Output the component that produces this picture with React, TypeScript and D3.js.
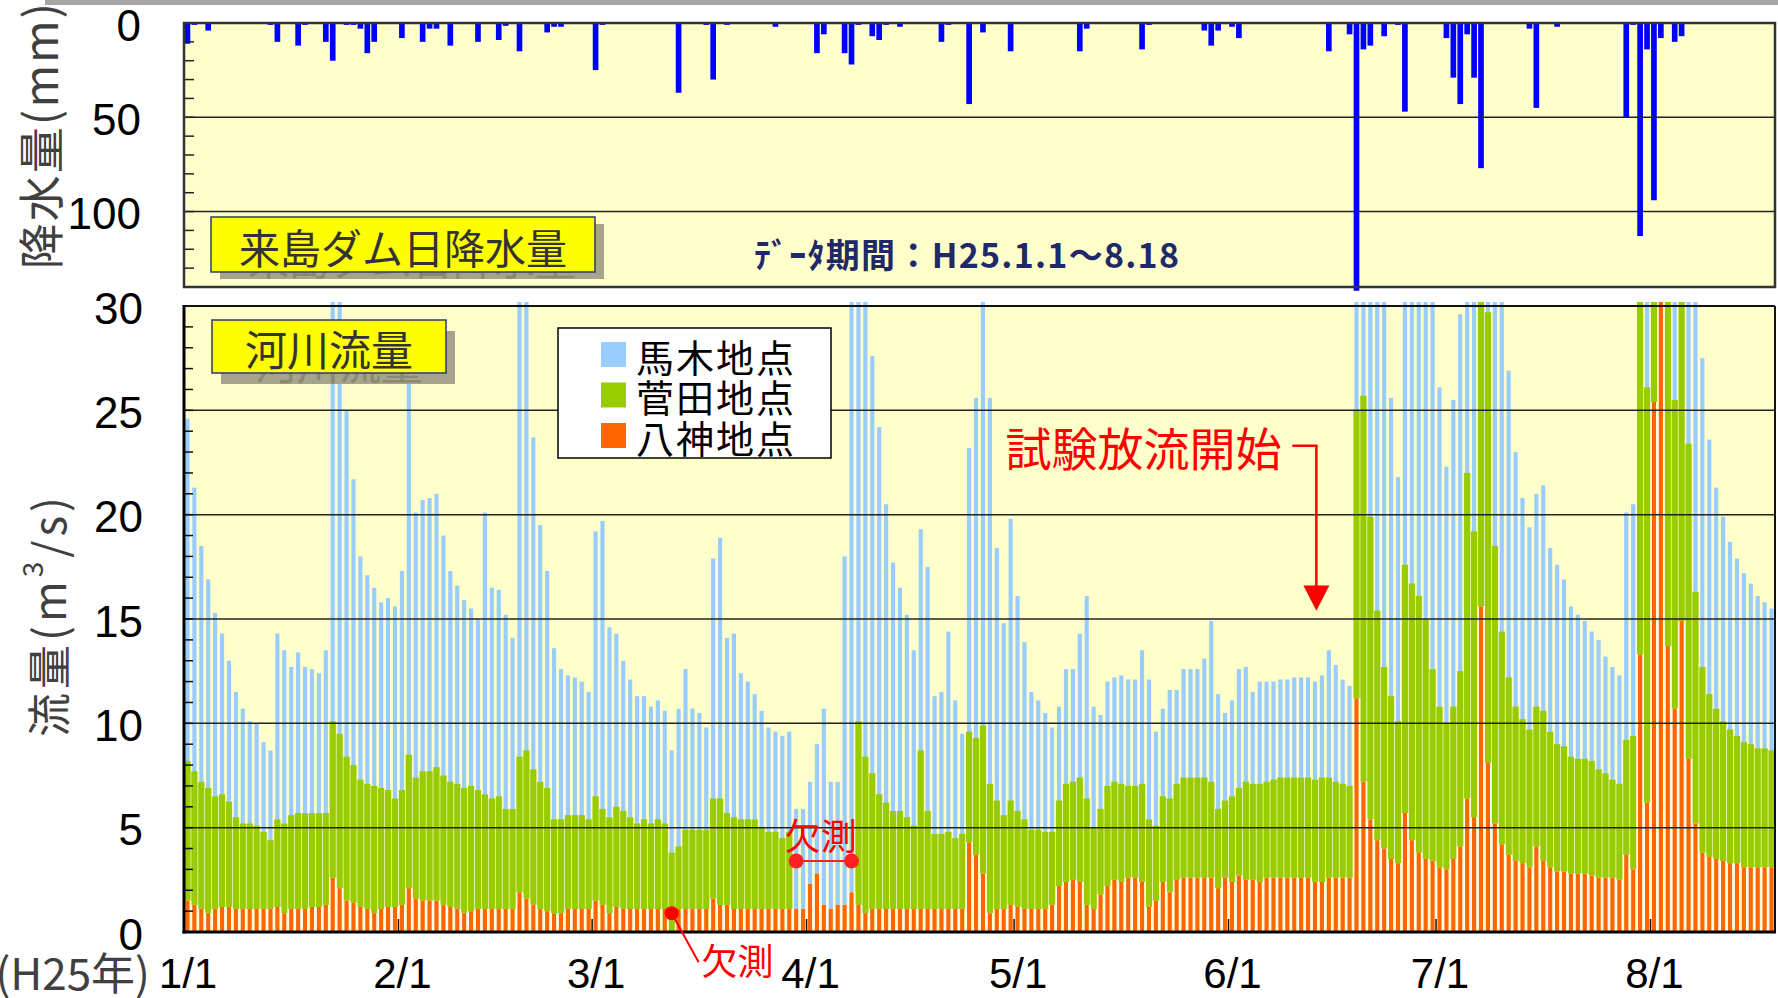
import React from "react";
import * as d3 from "d3";

// daily values, 2013-01-01 (H25.1.1) .. 2013-08-18
const N = 230;

// 来島ダム daily rainfall (mm)
const rain = [
  11, 1, 0, 4, 0, 0, 0, 0, 0, 0, 0, 0, 1, 10, 0, 0, 12, 1, 0, 0, 10, 20, 0, 1, 1, 3, 16, 10, 0, 0, 0,
  8, 0, 0, 10, 3, 3, 0, 12, 0, 0, 0, 10, 0, 0, 9, 1.5, 0, 15, 0, 0, 0, 5, 2, 2, 0, 0, 0, 0,
  25, 1, 0, 0, 0, 0, 0, 0, 0, 0, 0, 0, 37, 0, 0, 0, 1, 30, 0, 1, 0, 0, 0, 0, 0, 0, 2, 0, 0, 0, 0,
  0, 16, 6, 0, 0, 16, 22, 1, 0, 7, 9, 1, 0, 2, 0, 0, 0, 0, 0, 10, 1, 0, 0, 43, 0, 5, 0, 0, 0, 15,
  0, 0, 0, 0, 0, 0, 0, 0, 0, 15, 3, 0, 0, 0, 0, 0, 0, 0, 14, 1, 0, 0, 0, 0, 0, 0, 0, 4, 12, 4, 0,
  2, 8, 0, 0, 0, 0, 0, 0, 0, 0, 0, 0, 0, 0, 15, 0, 0, 6, 142, 14, 12, 0, 7, 0, 1, 47, 0, 0, 0, 0,
  0, 8, 29, 43, 6, 29, 77, 0, 0, 0, 0, 0, 0, 3, 45, 0, 0, 2, 0, 0, 0, 0, 0, 0, 0, 0, 0, 50, 1, 113, 14,
  94, 8, 0, 10, 7, 0, 0, 0, 0, 0, 0, 0, 0, 0, 0, 0, 0, 0,
];

// 馬木地点 flow (m3/s)
const bamoku = [
  24.6, 21.3, 18.5, 16.9, 15.3, 14.3, 13.0, 11.5, 10.7, 10.1, 10.0, 9.1, 8.7, 14.3, 13.5, 12.7, 13.4, 12.7, 12.6, 12.4, 13.5, 35, 32, 25.0, 21.7, 18.0, 17.1, 16.5, 15.8, 16.0, 15.6,
  17.3, 26.5, 20.1, 20.7, 20.8, 21.0, 19.0, 17.3, 16.6, 15.9, 15.5, 15.0, 20.1, 16.5, 16.4, 15.2, 14.1, 35, 33, 23.7, 19.5, 17.3, 13.6, 12.6, 12.3, 12.2, 12.0, 11.5,
  19.2, 19.7, 14.6, 14.3, 13.0, 12.1, 11.3, 11.3, 10.8, 11.1, 10.6, 8.7, 10.7, 12.6, 10.7, 10.5, 9.8, 17.9, 18.9, 14.1, 14.3, 12.4, 12.0, 11.4, 10.6, 9.8, 9.6, 9.4, 9.6, 5.9, 5.9,
  7.2, 9.0, 10.7, 7.2, 7.2, 18.0, 33, 33, 31, 27.6, 24.2, 20.5, 17.7, 16.5, 15.2, 13.5, 19.3, 17.5, 11.3, 11.5, 14.4, 11.1, 9.5, 23.2, 25.6, 31, 25.6, 18.4, 14.8, 19.8,
  16.1, 13.9, 11.5, 11.1, 10.5, 9.8, 10.8, 12.6, 12.6, 14.3, 16.1, 10.8, 10.4, 12.0, 12.2, 12.3, 12.1, 12.1, 13.5, 12.1, 9.6, 10.7, 11.6, 11.6, 12.6, 12.6, 12.6, 13.1, 14.9, 11.4, 10.5,
  11.1, 12.6, 12.7, 11.5, 12.0, 12.0, 12.0, 12.1, 12.1, 12.2, 12.2, 12.2, 12.0, 12.3, 13.5, 12.8, 12.1, 11.8, 40, 40, 35, 33, 31, 25.6, 21.8, 40, 38, 35, 33, 31,
  26.1, 22.3, 25.5, 29.6, 40, 40, 45, 40, 35, 31, 26.9, 23.0, 20.8, 19.4, 21.0, 21.4, 18.4, 17.6, 16.9, 15.6, 15.2, 14.9, 14.4, 14.0, 13.2, 12.7, 12.3, 20.1, 20.5, 40, 40,
  45, 45, 40, 38, 35, 33, 31, 27.5, 23.6, 21.3, 19.9, 18.7, 17.9, 17.2, 16.7, 16.1, 15.8, 15.5,
];

// 菅田地点 flow (m3/s), null = 欠測
const sugata = [
  8.2, 7.7, 7.2, 6.9, 6.5, 6.6, 6.25, 5.5, 5.2, 5.2, 5.1, 4.8, 4.4, 5.4, 5.2, 5.6, 5.7, 5.7, 5.7, 5.7, 5.7, 10.1, 9.5, 8.4, 8.0, 7.3, 7.1, 7.0, 6.9, 6.8, 6.4,
  6.8, 8.5, 7.4, 7.7, 7.7, 7.9, 7.5, 7.2, 7.1, 6.9, 7.0, 6.8, 6.6, 6.4, 6.5, 5.9, 5.9, 8.4, 8.7, 7.8, 7.2, 6.9, 5.4, 5.4, 5.6, 5.6, 5.6, 5.4,
  6.5, 5.9, 5.5, 6.0, 5.8, 5.5, 5.2, 5.4, 5.2, 5.4, 5.2, 3.8, 4.1, 4.9, 4.9, 4.9, 4.9, 6.4, 6.4, 5.7, 5.5, 5.4, 5.4, 5.4, 5.0, 4.8, 4.8, 4.5, 4.8, null, null,
  null, null, null, null, null, null, null, 10.1, 8.4, 7.6, 6.6, 6.2, 5.8, 5.8, 5.5, 5.1, 8.7, 5.8, 4.7, 4.7, 4.8, 4.5, 4.7, 9.6, 9.3, 9.9, 7.1, 6.3, 5.6, 6.3,
  5.8, 5.4, 4.9, 4.9, 4.8, 4.8, 6.3, 7.1, 7.2, 7.4, 6.4, 5.0, 5.9, 7.0, 7.2, 7.1, 7.0, 7.0, 7.1, 5.4, 5.1, 6.5, 6.4, 7.1, 7.4, 7.4, 7.4, 7.4, 7.2, 5.9, 6.3,
  6.5, 6.9, 7.2, 7.1, 7.1, 7.2, 7.3, 7.4, 7.4, 7.4, 7.4, 7.4, 7.3, 7.4, 7.4, 7.2, 7.1, 7.0, 25.0, 25.7, 19.9, 15.4, 12.7, 11.3, 10.1, 17.6, 16.7, 16.1, 15.0, 12.6,
  10.8, 10.0, 10.8, 12.5, 22.0, 19.2, 31, 29.7, 18.5, 14.4, 12.2, 10.8, 10.2, 9.7, 10.8, 10.6, 9.6, 9.0, 8.9, 8.4, 8.3, 8.3, 8.2, 7.8, 7.6, 7.3, 7.1, 9.2, 9.4, 35, 26.1,
  33, 33, 31, 25.5, 30.5, 23.4, 16.3, 12.7, 11.4, 10.7, 10.1, 9.7, 9.4, 9.1, 9.0, 8.8, 8.8, 8.7,
];

// 八神地点 flow (m3/s), null = 欠測
const yagami = [
  1.5, 1.3, 1.1, 0.9, 1.1, 1.2, 1.2, 1.1, 1.1, 1.1, 1.1, 1.1, 1.1, 1.2, 0.9, 1.1, 1.1, 1.1, 1.2, 1.2, 1.3, 2.6, 2.1, 1.5, 1.4, 1.2, 1.1, 0.9, 1.1, 1.2, 1.2,
  1.3, 2.1, 1.6, 1.5, 1.5, 1.5, 1.3, 1.2, 1.1, 0.9, 1.0, 1.1, 1.1, 1.1, 1.1, 1.1, 1.1, 1.9, 1.6, 1.3, 1.1, 1.0, 0.9, 0.9, 1.1, 1.1, 1.1, 1.1,
  1.5, 1.3, 0.9, 1.2, 1.1, 1.1, 1.1, 1.1, 1.1, 1.1, 1.1, null, 1.1, 1.1, 1.1, 1.1, 1.1, 1.6, 1.3, 1.3, 1.1, 1.1, 1.1, 1.1, 1.1, 1.1, 1.1, 1.1, 1.1, 1.1, 1.1,
  2.3, 2.8, 1.3, 1.1, 1.3, 1.3, 1.9, 1.3, 0.9, 1.1, 1.1, 1.1, 1.1, 1.1, 1.1, 1.1, 1.1, 1.1, 1.1, 1.1, 1.1, 1.1, 1.1, 4.3, 3.7, 2.8, 0.9, 1.1, 1.1, 1.3,
  1.2, 1.1, 1.1, 1.1, 1.1, 1.3, 2.2, 2.4, 2.5, 2.4, 1.3, 1.1, 1.8, 2.2, 2.5, 2.4, 2.6, 2.6, 2.4, 1.2, 1.5, 2.4, 1.9, 2.5, 2.6, 2.6, 2.6, 2.6, 2.6, 2.1, 2.6,
  2.4, 2.7, 2.5, 2.5, 2.4, 2.6, 2.6, 2.6, 2.6, 2.6, 2.6, 2.6, 2.4, 2.4, 2.6, 2.6, 2.6, 2.6, 11.2, 7.2, 5.4, 4.4, 4.0, 3.5, 3.3, 5.7, 4.4, 3.8, 3.5, 3.4,
  3.1, 3.0, 3.5, 4.1, 6.4, 5.5, 15.6, 8.1, 5.2, 4.2, 3.7, 3.4, 3.3, 3.1, 4.1, 3.4, 3.1, 2.9, 2.9, 2.8, 2.8, 2.8, 2.7, 2.6, 2.6, 2.6, 2.5, 3.7, 3.0, 13.3, 6.2,
  25.4, 31, 13.7, 10.7, 14.9, 8.3, 5.2, 3.8, 3.6, 3.5, 3.4, 3.3, 3.3, 3.1, 3.1, 3.1, 3.1, 3.1,
];

const monthStarts = [0, 31, 59, 90, 120, 151, 181, 212];
const monthLabels = ["1/1", "2/1", "3/1", "4/1", "5/1", "6/1", "7/1", "8/1"];
const rainTicks = [0, 50, 100];
const flowTicks = [0, 5, 10, 15, 20, 25, 30];
const seriesNames = ["馬木地点", "菅田地点", "八神地点"];

// annotations (day index / value)
const releaseDay = 163.7;
const missingSugata = [88, 96];
const missingYagami = 70;

const JP = '"Noto Sans CJK JP", "Noto Sans", sans-serif';
const LAT = '"Liberation Sans", Arial, sans-serif';
const C_BLUE = "#99CCFF";
const C_GREEN = "#99CC00";
const C_ORANGE = "#FF6600";
const BG = "#FFFFCC";

export default function App() {
  const left = 184;
  const right = 1775;
  const xl = d3.scaleLinear().domain([0, N]).range([left, right]);
  const bw = xl(1) - xl(0);
  const rainY = d3.scaleLinear().domain([0, 140]).range([23, 287]);
  const flowY = d3.scaleLinear().domain([0, 30]).range([932, 306]);
  const days = d3.range(N);
  const cx = (d: number) => xl(d) + bw / 2;

  const flowBar = (v: number | null, i: number, off: number, w: number, fill: string) =>
    v == null ? null : (
      <rect key={i} x={xl(i) + bw * off} width={bw * w} y={flowY(v)} height={flowY(0) - flowY(v)} fill={fill} />
    );

  const arrowX = xl(releaseDay);

  return (
    <svg width={1778} height={998} style={{ position: "fixed", left: 0, top: 0, background: "#fff" }}>
      <defs>
        <clipPath id="clipFlow">
          <rect x={left} y={flowY(30) - 4} width={right - left} height={flowY(0) - flowY(30) + 4} />
        </clipPath>
        <clipPath id="clipRain">
          <rect x={left} y={rainY(0)} width={right - left} height={rainY(140) - rainY(0) + 4} />
        </clipPath>
        <clipPath id="clipShadowTop">
          <rect x={595} y={224} width={9} height={55} />
          <rect x={220} y={272} width={384} height={7} />
        </clipPath>
        <clipPath id="clipShadowFlow">
          <rect x={446} y={331} width={9} height={53} />
          <rect x={221} y={373} width={234} height={11} />
        </clipPath>
      </defs>

      <rect x={45} y={0} width={1733} height={5} fill="#a6a6a6" />

      {/* ---- rainfall panel ---- */}
      <rect x={left} y={rainY(0)} width={right - left} height={rainY(140) - rainY(0)} fill={BG} />
      <g clipPath="url(#clipRain)">
        {days.map((i) =>
          rain[i] > 0 ? (
            <rect key={i} x={xl(i) + bw * 0.09} width={bw * 0.82} y={rainY(0)} height={rainY(rain[i]) - rainY(0)} fill="#0000FF" />
          ) : null
        )}
      </g>
      {rainTicks.slice(1).map((t) => (
        <line key={t} x1={left} x2={right} y1={rainY(t)} y2={rainY(t)} stroke="#222" strokeWidth={1.5} />
      ))}
      {d3.range(10, 140, 10).map((t) => (
        <line key={t} x1={left} x2={left + 10} y1={rainY(t)} y2={rainY(t)} stroke="#222" strokeWidth={1.5} />
      ))}
      <rect x={left} y={rainY(0)} width={right - left} height={rainY(140) - rainY(0)} fill="none" stroke="#333" strokeWidth={2.5} />
      {rainTicks.map((t) => (
        <text key={t} x={141} y={rainY(t) + 2} textAnchor="end" dominantBaseline="central" fontFamily={LAT} fontSize={44} fill="#000">
          {t}
        </text>
      ))}

      {/* rainfall title box */}
      <rect x={220} y={224} width={384} height={55} fill="#A6A48C" />
      <g clipPath="url(#clipShadowTop)">
        <text x={412} y={257} textAnchor="middle" dominantBaseline="central" fontFamily={JP} fontSize={41} fill="#8a8874">
          来島ダム日降水量
        </text>
      </g>
      <rect x={211} y={217} width={384} height={55} fill="#FFFF00" stroke="#2E3A6B" strokeWidth={1.5} />
      <text x={403} y={246} textAnchor="middle" dominantBaseline="central" fontFamily={JP} fontSize={41} fill="#333">
        来島ダム日降水量
      </text>
      <text x={754} y={253} dominantBaseline="central" fontFamily={JP} fontSize={34} fontWeight="bold" fill="#1f2868" textLength={425} lengthAdjust="spacing">
        ﾃﾞｰﾀ期間：H25.1.1～8.18
      </text>

      <text transform={`translate(38,135) rotate(-90)`} textAnchor="middle" dominantBaseline="central" fontFamily={JP} fontSize={46} fill="#404040" letterSpacing={2}>
        降水量(mm)
      </text>

      {/* ---- flow panel ---- */}
      <rect x={left} y={flowY(30)} width={right - left} height={flowY(0) - flowY(30)} fill={BG} />
      <g clipPath="url(#clipFlow)">
        {days.map((i) => flowBar(bamoku[i], i, 0.2, 0.6, C_BLUE))}
        {days.map((i) => flowBar(sugata[i], i, 0.05, 0.9, C_GREEN))}
        {days.map((i) =>
          yagami[i] == null ? null : (
            <rect key={i} x={xl(i)} width={bw + 0.4} y={flowY(yagami[i] as number)} height={flowY(0) - flowY(yagami[i] as number)} fill="#FFFFE6" />
          )
        )}
        {days.map((i) => flowBar(yagami[i], i, 0.2, 0.6, C_ORANGE))}
      </g>
      {flowTicks.slice(1, -1).map((t) => (
        <line key={t} x1={left} x2={right} y1={flowY(t)} y2={flowY(t)} stroke="#222" strokeWidth={1.5} />
      ))}
      {d3.range(1, 30).map((t) => (
        <line key={t} x1={left} x2={left + 9} y1={flowY(t)} y2={flowY(t)} stroke="#111" strokeWidth={1.5} />
      ))}
      {monthStarts.slice(1).map((d) => (
        <line key={d} x1={xl(d)} x2={xl(d)} y1={flowY(0)} y2={flowY(0) - 13} stroke="#111" strokeWidth={1.5} />
      ))}
      <line x1={left} x2={right} y1={flowY(30)} y2={flowY(30)} stroke="#111" strokeWidth={2} />
      <line x1={right} x2={right} y1={flowY(30)} y2={flowY(0)} stroke="#111" strokeWidth={2} />
      <line x1={left} x2={left} y1={flowY(30) - 1} y2={flowY(0) + 1.5} stroke="#000" strokeWidth={3} />
      <line x1={left - 1.5} x2={right + 1} y1={flowY(0)} y2={flowY(0)} stroke="#000" strokeWidth={3} />

      {flowTicks.map((t) => (
        <text key={t} x={143} y={flowY(t) + 2} textAnchor="end" dominantBaseline="central" fontFamily={LAT} fontSize={44} fill="#000">
          {t}
        </text>
      ))}
      {monthStarts.map((d, k) => (
        <text key={d} x={xl(d) + 4} y={988} textAnchor="middle" fontFamily={LAT} fontSize={42} fill="#000">
          {monthLabels[k]}
        </text>
      ))}
      <text x={150} y={990} textAnchor="end" fontFamily={JP} fontSize={44} fill="#404040">
        (H25年)
      </text>

      <text transform={`translate(47,615) rotate(-90)`} textAnchor="middle" dominantBaseline="central" fontFamily={JP} fontSize={44} fill="#404040" letterSpacing={4}>
        流量(m<tspan fontSize={28} dy={-16}>3</tspan>
        <tspan dy={16}>/s)</tspan>
      </text>

      {/* flow title box */}
      <rect x={221} y={331} width={234} height={53} fill="#A6A48C" />
      <g clipPath="url(#clipShadowFlow)">
        <text x={339} y={361} textAnchor="middle" dominantBaseline="central" fontFamily={JP} fontSize={42} fill="#8a8874">
          河川流量
        </text>
      </g>
      <rect x={212} y={320} width={234} height={53} fill="#FFFF00" stroke="#2E3A6B" strokeWidth={1.5} />
      <text x={329} y={347} textAnchor="middle" dominantBaseline="central" fontFamily={JP} fontSize={42} fill="#333">
        河川流量
      </text>

      {/* legend */}
      <rect x={558} y={328} width={273} height={130} fill="#fff" stroke="#000" strokeWidth={1.5} />
      {seriesNames.map((name, k) => (
        <g key={name}>
          <rect x={601} y={342 + k * 40.5} width={25} height={25} fill={[C_BLUE, C_GREEN, C_ORANGE][k]} />
          <text x={636} y={355 + k * 40.5} dominantBaseline="central" fontFamily={JP} fontSize={38} fill="#000" letterSpacing={2}>
            {name}
          </text>
        </g>
      ))}

      {/* 試験放流開始 */}
      <text x={arrowX - 35} y={flowY(23.3)} textAnchor="end" dominantBaseline="central" fontFamily={JP} fontSize={46} fill="#FF0000">
        試験放流開始
      </text>
      <polyline
        points={`${arrowX - 24},${flowY(23.3)} ${arrowX},${flowY(23.3)} ${arrowX},${flowY(16.4)}`}
        fill="none"
        stroke="#FF0000"
        strokeWidth={2.5}
      />
      <path d={`M${arrowX - 13},${flowY(16.6)} L${arrowX + 13},${flowY(16.6)} L${arrowX},${flowY(15.4)} Z`} fill="#FF0000" />

      {/* 欠測 (菅田) */}
      <line x1={cx(missingSugata[0])} x2={cx(missingSugata[1])} y1={flowY(3.4)} y2={flowY(3.4)} stroke="#FF2020" strokeWidth={2} />
      {missingSugata.map((d) => (
        <circle key={d} cx={cx(d)} cy={flowY(3.4)} r={7.5} fill="#FF2020" />
      ))}
      <text x={(cx(missingSugata[0]) + cx(missingSugata[1])) / 2 - 3} y={flowY(4.7)} textAnchor="middle" dominantBaseline="central" fontFamily={JP} fontSize={36} fill="#FF0000">
        欠測
      </text>

      {/* 欠測 (八神) */}
      <line x1={cx(missingYagami)} x2={xl(missingYagami + 4.4)} y1={flowY(0.9)} y2={flowY(-1.45)} stroke="#FF0000" strokeWidth={2} />
      <circle cx={cx(missingYagami)} cy={flowY(0.9)} r={7} fill="#FF0000" />
      <text x={xl(missingYagami + 4.8)} y={flowY(-1.3)} dominantBaseline="central" fontFamily={JP} fontSize={36} fill="#FF0000">
        欠測
      </text>
    </svg>
  );
}
